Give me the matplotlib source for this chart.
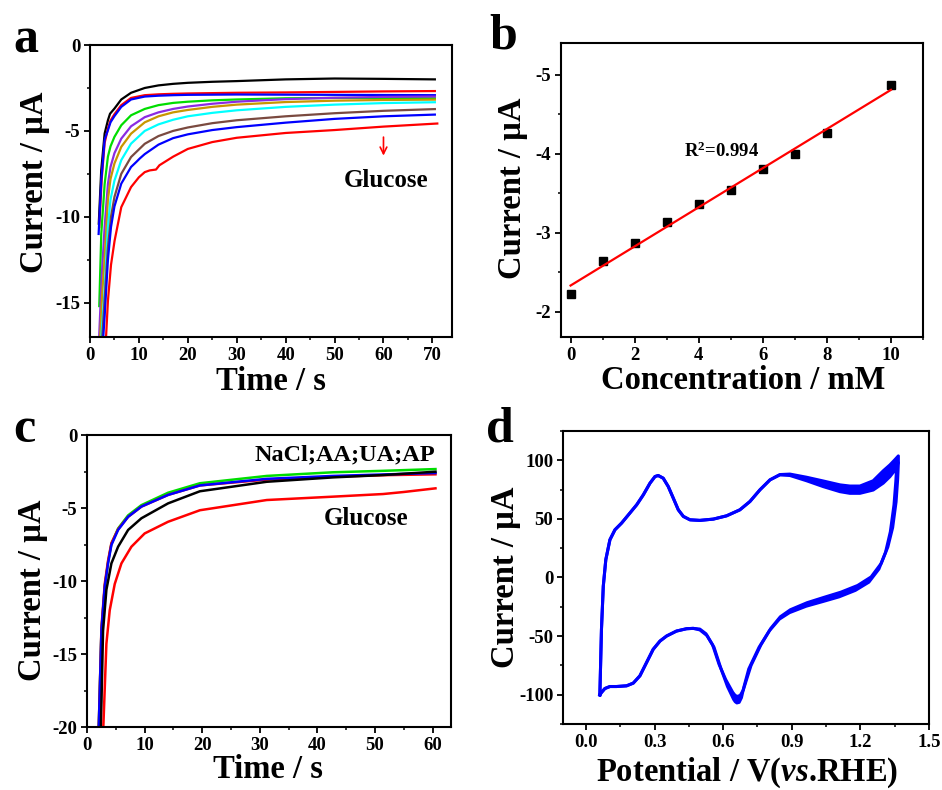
import matplotlib
matplotlib.use('Agg')
import matplotlib.pyplot as plt
import numpy as np
from matplotlib.ticker import MultipleLocator, FormatStrFormatter

plt.rcParams['font.family'] = 'Liberation Serif'
plt.rcParams['font.weight'] = 'bold'
plt.rcParams['axes.unicode_minus'] = False
plt.rcParams['mathtext.fontset'] = 'custom'
plt.rcParams['mathtext.rm'] = 'Liberation Serif:bold'
plt.rcParams['mathtext.it'] = 'Liberation Serif:italic:bold'
plt.rcParams['mathtext.bf'] = 'Liberation Serif:bold'

# ---- panel a: chronoamperometry, increasing glucose ----
a_colors = ['black', 'red', 'blue', '#00dd00', '#8a2be2', '#c89600', 'cyan', '#7a4a40', 'blue', 'red']
a_t = [
    [1.8, 2.3, 3.0, 3.67, 4.1, 5.0, 6.4, 8.4, 11.2, 14, 17, 20, 25, 30, 40, 50, 60, 70.5],
    [1.9, 2.4, 3.0, 3.67, 4.2, 5.0, 6.4, 8.4, 11.2, 14, 17, 20, 25, 30, 40, 50, 60, 70.5],
    [1.77, 2.31, 3.0, 3.67, 4.2, 5.0, 6.4, 8.4, 11.2, 14, 17, 20, 25, 30, 40, 50, 60, 70.5],
    [1.9, 2.31, 3.0, 3.67, 4.2, 5.0, 6.4, 8.4, 11.2, 14, 17, 20, 25, 30, 40, 50, 60, 70.5],
    [1.8, 2.4, 3.0, 3.67, 4.2, 5.0, 6.4, 8.4, 11.2, 14, 17, 20, 25, 30, 40, 50, 60, 70.5],
    [2.0, 2.5, 3.0, 3.67, 4.2, 5.0, 6.4, 8.4, 11.2, 14, 17, 20, 25, 30, 40, 50, 60, 70.5],
    [2.2, 2.7, 3.0, 3.67, 4.2, 5.0, 6.4, 8.4, 11.2, 14, 17, 20, 25, 30, 40, 50, 60, 70.5],
    [2.4, 3.0, 3.67, 4.3, 5.0, 6.4, 8.4, 11.2, 14, 17, 20, 25, 30, 40, 50, 60, 70.5],
    [2.6, 3.0, 3.67, 4.3, 5.0, 6.4, 8.4, 9.5, 10.2, 11.2, 14, 17, 20, 25, 30, 40, 50, 60, 70.5],
    [3.2, 3.67, 4.3, 5.03, 6.4, 8.4, 10.0, 11.2, 12.2, 13.5, 14.2, 17, 20, 25, 30, 40, 50, 60, 71.0],
]
a_i = [
    [-10.4, -7.3, -5.15, -4.38, -4.0, -3.7, -3.17, -2.78, -2.5, -2.35, -2.26, -2.2, -2.14, -2.1, -2.0, -1.95, -1.97, -2.0],
    [-10.6, -7.8, -5.7, -4.86, -4.4, -4.03, -3.5, -3.08, -2.92, -2.87, -2.84, -2.82, -2.8, -2.78, -2.76, -2.73, -2.7, -2.68],
    [-11.0, -7.9, -5.5, -4.96, -4.5, -4.14, -3.6, -3.17, -3.0, -2.95, -2.92, -2.9, -2.89, -2.88, -2.89, -2.9, -2.91, -2.92],
    [-15.2, -11.0, -8.1, -6.5, -5.9, -5.35, -4.67, -4.09, -3.72, -3.5, -3.37, -3.3, -3.22, -3.17, -3.1, -3.08, -3.08, -3.1],
    [-17.5, -13.5, -10.6, -8.1, -7.1, -6.3, -5.45, -4.73, -4.2, -3.92, -3.72, -3.58, -3.42, -3.3, -3.15, -3.07, -3.02, -3.0],
    [-17.5, -14.5, -12.4, -9.0, -7.8, -6.9, -5.93, -5.16, -4.5, -4.15, -3.92, -3.78, -3.6, -3.47, -3.32, -3.24, -3.2, -3.18],
    [-17.5, -15.5, -14.3, -10.6, -9.0, -7.9, -6.7, -5.74, -5.0, -4.62, -4.35, -4.15, -3.95, -3.8, -3.6, -3.47, -3.38, -3.33],
    [-17.5, -14.8, -11.8, -10.0, -8.85, -7.5, -6.52, -5.75, -5.3, -5.0, -4.8, -4.55, -4.38, -4.15, -3.97, -3.83, -3.73],
    [-17.5, -15.8, -12.5, -10.6, -9.4, -8.07, -7.1, -6.8, -6.6, -6.35, -5.8, -5.42, -5.2, -4.95, -4.78, -4.52, -4.3, -4.15, -4.05],
    [-17.5, -14.9, -12.8, -11.4, -9.44, -8.27, -7.7, -7.4, -7.3, -7.25, -7.0, -6.5, -6.05, -5.65, -5.4, -5.12, -4.95, -4.75, -4.57],
]

# ---- panel b: calibration ----
b_conc = [0, 1, 2, 3, 4, 5, 6, 7, 8, 10]
b_curr = [-2.23, -2.64, -2.87, -3.13, -3.36, -3.54, -3.81, -4.0, -4.26, -4.87]

# ---- panel c: interference test ----
c_colors = ['#00dd00', 'red', 'blue', 'black', 'red']
c_t = [
    [2.0, 2.5, 3.07, 3.65, 4.23, 5.39, 7.13, 9.44, 14.07, 19.6, 31.2, 42.7, 51.4, 60.5],
    [2.0, 2.5, 3.07, 3.65, 4.23, 5.39, 7.13, 9.44, 14.07, 19.6, 31.2, 42.7, 51.4, 60.5],
    [2.0, 2.5, 3.07, 3.65, 4.23, 5.39, 7.13, 9.44, 14.07, 19.6, 31.2, 42.7, 51.4, 60.5],
    [2.38, 2.78, 3.36, 4.23, 5.39, 7.13, 9.44, 14.07, 19.6, 31.2, 42.7, 51.4, 60.5],
    [2.78, 3.36, 3.94, 4.81, 5.97, 7.7, 10.0, 14.07, 19.6, 31.2, 42.7, 51.4, 55, 60.5],
]
c_i = [
    [-20.5, -13.4, -10.4, -8.7, -7.45, -6.4, -5.5, -4.8, -3.95, -3.3, -2.8, -2.55, -2.45, -2.33],
    [-20.5, -13.2, -10.2, -8.6, -7.4, -6.45, -5.6, -4.9, -4.1, -3.45, -3.05, -2.85, -2.75, -2.69],
    [-20.5, -13.4, -10.4, -8.79, -7.53, -6.5, -5.6, -4.9, -4.1, -3.45, -3.0, -2.8, -2.7, -2.6],
    [-20.5, -13.4, -10.6, -8.79, -7.65, -6.5, -5.7, -4.68, -3.85, -3.2, -2.9, -2.74, -2.51],
    [-20.5, -14.3, -12.0, -10.2, -8.79, -7.65, -6.74, -5.94, -5.15, -4.45, -4.22, -4.04, -3.9, -3.65],
]

# ---- panel d: CV, two cycles (forward + reverse sweep) ----
d_v_fwd = [0.061, 0.068, 0.076, 0.087, 0.105, 0.127, 0.156, 0.192, 0.222, 0.251, 0.28, 0.302,
           0.316, 0.338, 0.36, 0.382, 0.404, 0.426, 0.455, 0.498, 0.557, 0.615, 0.673, 0.717,
           0.761, 0.805, 0.848, 0.892, 0.965, 1.038, 1.111, 1.154, 1.198, 1.256, 1.3, 1.329,
           1.351, 1.366]
d_i_fwd1 = [-100.1, -44.3, -7.4, 15.2, 32.2, 40.7, 46.4, 54.9, 62.0, 70.5, 80.4, 86.1, 87.0,
            84.7, 77.6, 67.7, 57.7, 52.1, 49.2, 48.7, 49.8, 52.6, 57.7, 64.8, 74.8, 83.3, 87.8,
            88.2, 85.5, 82.3, 79.0, 78.0, 78.0, 82.5, 91.0, 96.0, 100.5, 103.7]
d_i_fwd2 = [-100.1, -44.3, -7.4, 15.2, 32.2, 40.7, 46.4, 54.9, 62.0, 70.5, 80.4, 86.1, 87.0,
            84.7, 77.6, 67.7, 57.7, 52.1, 49.2, 48.7, 49.8, 52.6, 57.7, 64.8, 74.8, 83.3, 87.5,
            87.0, 82.5, 77.5, 73.2, 71.8, 71.8, 74.6, 80.5, 86.0, 91.5, 98.0]
d_v_rev1 = [1.366, 1.366, 1.363, 1.356, 1.341, 1.320, 1.291, 1.247, 1.188, 1.115, 1.040, 0.967,
            0.894, 0.850, 0.808, 0.765, 0.722, 0.700, 0.688, 0.675, 0.662, 0.652, 0.642, 0.611,
            0.582, 0.554, 0.525, 0.498, 0.469, 0.44, 0.396, 0.353, 0.324, 0.294, 0.265, 0.236,
            0.207, 0.178, 0.134, 0.105, 0.083, 0.068, 0.061]
d_i_rev1 = [103.7, 97.4, 84.0, 64.5, 42.5, 26.0, 12.0, 0.5, -6.8, -12.5, -17.0, -21.5, -27.5,
            -33.5, -43.5, -57.5, -75.0, -88.5, -96.0, -100.5, -101.5, -100.5, -98.0, -87.0, -74.0,
            -57.5, -48.0, -44.0, -43.4, -43.7, -45.7, -49.9, -54.2, -61.3, -72.6, -83.9, -90.1,
            -92.4, -93.0, -93.0, -94.7, -98.1, -100.1]
d_v_rev2 = [1.362, 1.358, 1.355, 1.347, 1.331, 1.310, 1.281, 1.237, 1.178, 1.107, 1.036, 0.963,
            0.890, 0.846, 0.802, 0.757, 0.712, 0.690, 0.680, 0.670, 0.660, 0.653, 0.646, 0.619,
            0.590, 0.560, 0.529, 0.498, 0.469, 0.44, 0.396, 0.353, 0.324, 0.294, 0.265, 0.236,
            0.207, 0.178, 0.134, 0.105, 0.083, 0.068, 0.061]
d_i_rev2 = [98.0, 92.0, 82.0, 62.0, 39.0, 21.5, 7.2, -4.0, -11.0, -16.5, -20.5, -24.5, -30.0,
            -35.5, -45.5, -59.5, -78.0, -94.0, -102.5, -106.5, -107.0, -106.0, -104.0, -93.0, -77.5,
            -59.5, -49.5, -44.7, -43.4, -43.7, -45.7, -49.9, -54.2, -61.3, -72.6, -83.9, -90.1,
            -92.4, -93.0, -93.0, -94.7, -98.1, -100.1]

fig = plt.figure(figsize=(9.42, 7.9), dpi=100)
ax_a = fig.add_axes([0.0955, 0.5734, 0.3843, 0.3696])
ax_b = fig.add_axes([0.5955, 0.5734, 0.3843, 0.372])
ax_c = fig.add_axes([0.0924, 0.0797, 0.3864, 0.3696])
ax_d = fig.add_axes([0.5977, 0.0835, 0.3885, 0.371])

tick_fs = 13.5
label_fs = 23.5


def style(ax):
    for s in ax.spines.values():
        s.set_linewidth(1.5)
    ax.tick_params(which='major', direction='out', length=4, width=1.3, labelsize=tick_fs,
                   top=False, right=False, pad=3)
    ax.tick_params(which='minor', direction='out', length=2.5, width=1.1, top=False, right=False)


# a
for t, i, c in zip(a_t, a_i, a_colors):
    ax_a.plot(t, i, color=c, lw=1.6, solid_joinstyle='round')
ax_a.set_xlim(0, 74)
ax_a.set_ylim(-17, 0)
ax_a.xaxis.set_major_locator(MultipleLocator(10))
ax_a.xaxis.set_minor_locator(MultipleLocator(5))
ax_a.yaxis.set_major_locator(MultipleLocator(5))
ax_a.yaxis.set_minor_locator(MultipleLocator(2.5))
ax_a.set_xlabel('Time / s', fontsize=label_fs, fontweight='bold')
ax_a.set_ylabel('Current / µA', fontsize=label_fs, fontweight='bold')
ax_a.annotate('', xy=(60, -6.6), xytext=(60, -5.2),
              arrowprops=dict(arrowstyle='->', color='red', lw=1.2, mutation_scale=12))
ax_a.text(60.5, -7.9, 'Glucose', fontsize=18, fontweight='bold', ha='center', va='center')
style(ax_a)

# b
ax_b.plot(b_conc, b_curr, 's', color='black', ms=5.5)
k, b0 = np.polyfit(b_conc, b_curr, 1)
xf = np.array([b_conc[0], b_conc[-1]])
ax_b.plot(xf, k * xf + b0, color='red', lw=1.6)
ax_b.set_xlim(-0.3, 11)
ax_b.set_ylim(-1.68, -5.4)
ax_b.xaxis.set_major_locator(MultipleLocator(2))
ax_b.xaxis.set_minor_locator(MultipleLocator(1))
ax_b.yaxis.set_major_locator(MultipleLocator(1))
ax_b.yaxis.set_minor_locator(MultipleLocator(0.5))
ax_b.text(3.55, -4.03, 'R$^{2}$=0.994', fontsize=13.5, fontweight='bold', ha='left', va='center')
ax_b.set_xlabel('Concentration / mM', fontsize=label_fs, fontweight='bold')
ax_b.set_ylabel('Current / µA', fontsize=label_fs, fontweight='bold')
style(ax_b)

# c
for t, i, c in zip(c_t, c_i, c_colors):
    ax_c.plot(t, i, color=c, lw=1.8, solid_joinstyle='round')
ax_c.set_xlim(0, 63.2)
ax_c.set_ylim(-20, 0)
ax_c.xaxis.set_major_locator(MultipleLocator(10))
ax_c.xaxis.set_minor_locator(MultipleLocator(5))
ax_c.yaxis.set_major_locator(MultipleLocator(5))
ax_c.yaxis.set_minor_locator(MultipleLocator(2.5))
ax_c.text(60.4, -1.37, 'NaCl;AA;UA;AP', fontsize=17.5, fontweight='bold', ha='right', va='center')
ax_c.text(48.4, -5.7, 'Glucose', fontsize=18, fontweight='bold', ha='center', va='center')
ax_c.set_xlabel('Time / s', fontsize=label_fs, fontweight='bold')
ax_c.set_ylabel('Current / µA', fontsize=label_fs, fontweight='bold')
style(ax_c)

# d : two cycles, band between them filled
cyc1_v = d_v_fwd + d_v_rev1
cyc1_i = d_i_fwd1 + d_i_rev1
cyc2_v = d_v_fwd + d_v_rev2
cyc2_i = d_i_fwd2 + d_i_rev2
ax_d.fill(cyc1_v + cyc2_v[::-1], cyc1_i + cyc2_i[::-1], color='blue', lw=0)
ax_d.plot(cyc1_v, cyc1_i, color='blue', lw=2.2, solid_joinstyle='round')
ax_d.plot(cyc2_v, cyc2_i, color='blue', lw=2.2, solid_joinstyle='round')
ax_d.set_xlim(-0.1, 1.5)
ax_d.set_ylim(-125, 125)
ax_d.xaxis.set_major_locator(MultipleLocator(0.3))
ax_d.xaxis.set_minor_locator(MultipleLocator(0.15))
ax_d.xaxis.set_major_formatter(FormatStrFormatter('%.1f'))
ax_d.yaxis.set_major_locator(MultipleLocator(50))
ax_d.yaxis.set_minor_locator(MultipleLocator(25))
ax_d.set_xlabel('Potential / V($\\mathit{vs}$.RHE)', fontsize=label_fs, fontweight='bold')
ax_d.set_ylabel('Current / µA', fontsize=label_fs, fontweight='bold')
style(ax_d)

# label placement (axes fractions)
ax_a.yaxis.set_label_coords(-0.110, 0.531)
ax_b.yaxis.set_label_coords(-0.090, 0.505)
ax_c.yaxis.set_label_coords(-0.108, 0.469)
ax_d.yaxis.set_label_coords(-0.114, 0.5)
ax_a.xaxis.set_label_coords(0.5, -0.098)
ax_b.xaxis.set_label_coords(0.502, -0.094)
ax_c.xaxis.set_label_coords(0.497, -0.094)
ax_d.xaxis.set_label_coords(0.502, -0.109)

for x, y, s in [(0.0138, 0.933, 'a'), (0.519, 0.939, 'b'), (0.0138, 0.441, 'c'), (0.516, 0.441, 'd')]:
    fig.text(x, y, s, fontsize=36, fontweight='bold', ha='left', va='baseline')

fig.savefig('out.png', dpi=100)
